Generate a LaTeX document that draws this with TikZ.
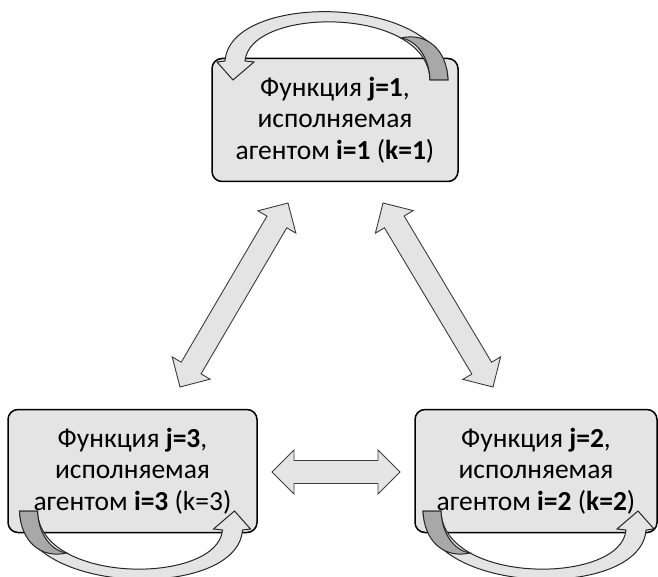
\documentclass[tikz,border=0pt]{standalone}
\usepackage{fontspec}
\setmainfont{Carlito}
\usetikzlibrary{calc}

\definecolor{boxgray}{RGB}{228,228,228}
\definecolor{tailgray}{RGB}{168,168,168}
\definecolor{edgegray}{RGB}{60,60,60}

% block double arrow between two named tips
\newcommand{\biarrow}[2]{%
  \draw[bigarrow] (#1)
    -- ($(#1)!22pt!(#2)!22pt!90:(#2)$)
    -- ($(#1)!22pt!(#2)!11.5pt!90:(#2)$)
    -- ($(#2)!22pt!(#1)!11.5pt!-90:(#1)$)
    -- ($(#2)!22pt!(#1)!22pt!-90:(#1)$)
    -- (#2)
    -- ($(#2)!22pt!(#1)!22pt!90:(#1)$)
    -- ($(#2)!22pt!(#1)!11.5pt!90:(#1)$)
    -- ($(#1)!22pt!(#2)!11.5pt!-90:(#2)$)
    -- ($(#1)!22pt!(#2)!22pt!-90:(#2)$)
    -- cycle;}

% curved block arrow from a box back to itself
\newcommand{\selfloop}[2]{%
  \begin{scope}[shift={(#1.center)}, rotate=#2]
    \draw[loopband] (113,-40) .. controls (110,-125) and (-105,-130) .. (-110,-59)
      -- (-118,-58) -- (-102,-40) -- (-81,-58) -- (-90,-59)
      .. controls (-85,-114) and (93,-114) .. (95,-40) -- cycle;
    \draw[looptail] (95,-40) -- (113,-40) .. controls (112,-70) and (92,-88) .. (66,-82)
      .. controls (80,-80) and (94,-65) .. (95,-40) -- cycle;
  \end{scope}}

\begin{document}
\begin{tikzpicture}[x=1pt, y=-1pt]

\tikzset{func/.style = {draw=black, fill=boxgray, line width=1.5pt, rounded corners=10pt,
    align=center, minimum height=123pt, inner sep=2pt, font=\fontsize{27.5}{31.5}\selectfont}}
\tikzset{bigarrow/.style = {draw=edgegray, fill=boxgray, line width=0.9pt, line join=miter}}
\tikzset{loopband/.style = {draw=black!85, fill=boxgray, line width=1pt}}
\tikzset{looptail/.style = {draw=black!85, fill=tailgray, line width=1pt}}

\useasboundingbox (0,0) rectangle (658,577);

%functions
\node[func, minimum width=246pt] (f1) at (335,120)
  {Функция \textbf{j=1},\\исполняемая\\агентом \textbf{i=1} (\textbf{k=1})};
\node[func, minimum width=249pt] (f3) at (132.5,471)
  {Функция \textbf{j=3},\\исполняемая\\агентом \textbf{i=3} (k=3)};
\node[func, minimum width=242pt] (f2) at (536,471)
  {Функция \textbf{j=2},\\исполняемая\\агентом \textbf{i=2} (\textbf{k=2})};

%arrow tips
\coordinate (a1) at (288,203);
\coordinate (a3) at (180,387);
\coordinate (b1) at (383,203);
\coordinate (b2) at (493,387);
\coordinate (c3) at (272,472);
\coordinate (c2) at (400,472);

%links
\biarrow{a1}{a3}
\biarrow{b1}{b2}
\biarrow{c3}{c2}

%loops
\selfloop{f1}{0}
\selfloop{f3}{180}
\selfloop{f2}{180}

\end{tikzpicture}
\end{document}
